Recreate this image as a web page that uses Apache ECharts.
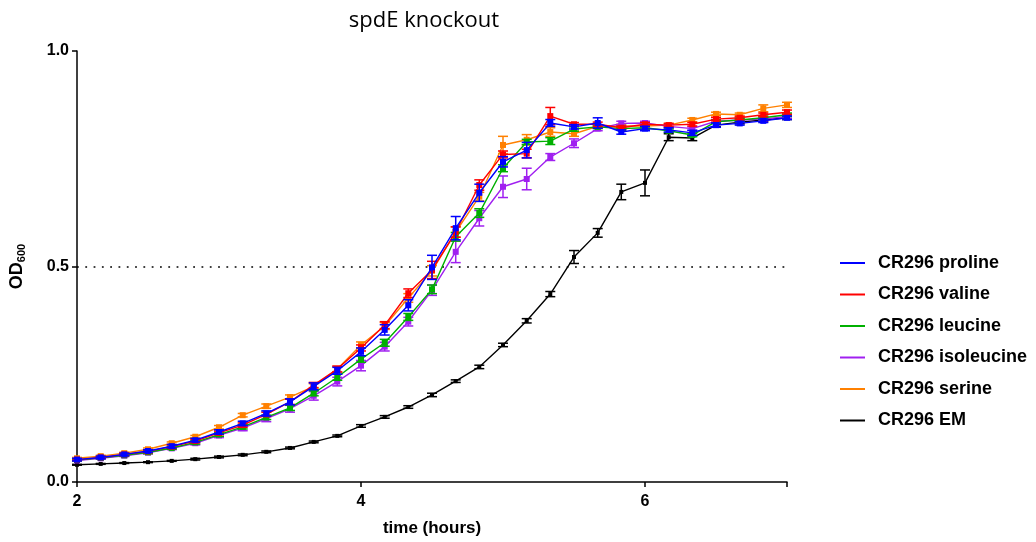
<!DOCTYPE html>
<html>
<head>
<meta charset="utf-8">
<script src="https://cdn.jsdelivr.net/npm/echarts@6/dist/echarts.min.js"></script>
<style>
  html, body { margin: 0; padding: 0; background: #fff; }
  #chart { width: 1036px; height: 542px; }
</style>
</head>
<body>
<div id="chart"></div>
<script>
// Sampling times (hours), one reading every 10 minutes
const hours = [2.000, 2.167, 2.333, 2.500, 2.667, 2.833, 3.000, 3.167, 3.333, 3.500, 3.667,
  3.833, 4.000, 4.167, 4.333, 4.500, 4.667, 4.833, 5.000, 5.167, 5.333, 5.500, 5.667,
  5.833, 6.000, 6.167, 6.333, 6.500, 6.667, 6.833, 7.000];

// OD600 means and error (half-width) per strain/medium
const prolineOD = [0.052, 0.057, 0.064, 0.072, 0.083, 0.097, 0.116, 0.136, 0.159, 0.186, 0.222,
  0.258, 0.302, 0.353, 0.410, 0.498, 0.589, 0.671, 0.743, 0.770, 0.833, 0.824, 0.833,
  0.812, 0.820, 0.817, 0.810, 0.828, 0.832, 0.838, 0.845];
const prolineErr = [0.003, 0.003, 0.003, 0.003, 0.004, 0.004, 0.005, 0.005, 0.006, 0.007, 0.008,
  0.008, 0.009, 0.012, 0.013, 0.028, 0.027, 0.020, 0.012, 0.018, 0.008, 0.005, 0.012,
  0.005, 0.005, 0.005, 0.006, 0.005, 0.004, 0.004, 0.004];

const valineOD = [0.052, 0.057, 0.064, 0.071, 0.082, 0.095, 0.114, 0.132, 0.157, 0.186, 0.225,
  0.262, 0.311, 0.364, 0.438, 0.492, 0.580, 0.689, 0.760, 0.762, 0.849, 0.830, 0.830,
  0.822, 0.830, 0.828, 0.830, 0.842, 0.845, 0.852, 0.858];
const valineErr = [0.002, 0.002, 0.003, 0.003, 0.004, 0.004, 0.004, 0.005, 0.005, 0.006, 0.006,
  0.007, 0.007, 0.008, 0.010, 0.020, 0.012, 0.012, 0.008, 0.010, 0.020, 0.004, 0.005,
  0.004, 0.004, 0.004, 0.004, 0.004, 0.004, 0.004, 0.005];

const leucineOD = [0.051, 0.056, 0.062, 0.069, 0.079, 0.092, 0.110, 0.128, 0.150, 0.172, 0.206,
  0.243, 0.285, 0.323, 0.383, 0.447, 0.569, 0.624, 0.728, 0.789, 0.791, 0.819, 0.824,
  0.820, 0.822, 0.815, 0.805, 0.836, 0.840, 0.845, 0.852];
const leucineErr = [0.002, 0.002, 0.002, 0.003, 0.003, 0.004, 0.004, 0.005, 0.005, 0.006, 0.006,
  0.007, 0.007, 0.008, 0.008, 0.010, 0.010, 0.010, 0.008, 0.006, 0.008, 0.005, 0.004,
  0.004, 0.004, 0.004, 0.004, 0.004, 0.004, 0.004, 0.004];

const isoleucineOD = [0.050, 0.055, 0.061, 0.068, 0.078, 0.090, 0.108, 0.125, 0.147, 0.170, 0.200,
  0.233, 0.270, 0.314, 0.372, 0.445, 0.534, 0.612, 0.685, 0.703, 0.754, 0.786, 0.820,
  0.832, 0.833, 0.825, 0.820, 0.837, 0.840, 0.842, 0.848];
const isoleucineErr = [0.002, 0.002, 0.002, 0.003, 0.003, 0.004, 0.005, 0.006, 0.007, 0.008, 0.010,
  0.010, 0.012, 0.010, 0.010, 0.012, 0.025, 0.018, 0.025, 0.025, 0.008, 0.010, 0.005,
  0.005, 0.004, 0.004, 0.004, 0.004, 0.004, 0.004, 0.004];

const serineOD = [0.055, 0.060, 0.067, 0.076, 0.090, 0.105, 0.127, 0.155, 0.176, 0.197, 0.222,
  0.262, 0.318, 0.362, 0.427, 0.490, 0.580, 0.662, 0.782, 0.794, 0.812, 0.808, 0.825,
  0.826, 0.826, 0.828, 0.840, 0.854, 0.852, 0.867, 0.875];
const serineErr = [0.002, 0.002, 0.002, 0.003, 0.003, 0.003, 0.004, 0.004, 0.005, 0.005, 0.006,
  0.006, 0.007, 0.008, 0.010, 0.012, 0.012, 0.010, 0.020, 0.012, 0.010, 0.006, 0.004,
  0.004, 0.004, 0.004, 0.004, 0.004, 0.004, 0.008, 0.006];

const emOD = [0.040, 0.042, 0.044, 0.046, 0.049, 0.053, 0.058, 0.063, 0.070, 0.079, 0.093,
  0.107, 0.130, 0.151, 0.174, 0.202, 0.234, 0.267, 0.318, 0.374, 0.436, 0.522, 0.578,
  0.673, 0.694, 0.800, 0.798, 0.828, 0.835, 0.840, 0.845];
const emErr = [0.001, 0.001, 0.001, 0.001, 0.001, 0.002, 0.002, 0.002, 0.002, 0.002, 0.002,
  0.002, 0.003, 0.003, 0.003, 0.004, 0.003, 0.004, 0.004, 0.005, 0.006, 0.015, 0.010,
  0.018, 0.030, 0.008, 0.006, 0.004, 0.004, 0.004, 0.004];

const xTicks = [2, 4, 6];
const yTicks = [0, 0.5, 1.0];
const thresholdOD = 0.5;

// Draw order is bottom to top; proline ends up on top
const strains = [
  { name: 'CR296 EM',         color: '#000000', od: emOD,         err: emErr },
  { name: 'CR296 serine',     color: '#ff8000', od: serineOD,     err: serineErr },
  { name: 'CR296 isoleucine', color: '#a020f0', od: isoleucineOD, err: isoleucineErr },
  { name: 'CR296 leucine',    color: '#00b000', od: leucineOD,    err: leucineErr },
  { name: 'CR296 valine',     color: '#ff0000', od: valineOD,     err: valineErr },
  { name: 'CR296 proline',    color: '#0000ff', od: prolineOD,    err: prolineErr }
];
const legendOrder = ['CR296 proline', 'CR296 valine', 'CR296 leucine',
  'CR296 isoleucine', 'CR296 serine', 'CR296 EM'];

const FONT = 'Liberation Sans, Arial, sans-serif';

function errorBarRenderer(color) {
  return function (params, api) {
    const x = api.value(0);
    const lo = api.coord([x, api.value(1)]);
    const hi = api.coord([x, api.value(2)]);
    const cap = 5;
    const style = { stroke: color, lineWidth: 1.5 };
    return {
      type: 'group',
      children: [
        { type: 'line', shape: { x1: lo[0], y1: lo[1], x2: hi[0], y2: hi[1] }, style },
        { type: 'line', shape: { x1: lo[0] - cap, y1: lo[1], x2: lo[0] + cap, y2: lo[1] }, style },
        { type: 'line', shape: { x1: hi[0] - cap, y1: hi[1], x2: hi[0] + cap, y2: hi[1] }, style }
      ]
    };
  };
}

const series = [];
strains.forEach((s, i) => {
  const z = 2 + i * 2;
  const line = {
    name: s.name,
    type: 'line',
    data: hours.map((t, k) => [t, s.od[k]]),
    symbol: 'rect',
    symbolSize: s.name === 'CR296 EM' ? 4 : 6,
    showSymbol: true,
    itemStyle: { color: s.color },
    lineStyle: { color: s.color, width: 1.4 },
    emphasis: { disabled: true },
    animation: false,
    z: z
  };
  if (i === 0) {
    line.markLine = {
      silent: true,
      symbol: 'none',
      label: { show: false },
      lineStyle: { color: '#000', width: 1.5, type: [1.8, 6.5] },
      data: [{ yAxis: thresholdOD }],
      animation: false
    };
  }
  series.push(line);
  series.push({
    name: s.name + ' SD',
    type: 'custom',
    renderItem: errorBarRenderer(s.color),
    data: hours.map((t, k) => [t, s.od[k] - s.err[k], s.od[k] + s.err[k]]),
    encode: { x: 0, y: [1, 2] },
    silent: true,
    animation: false,
    z: z + 1
  });
});

const chart = echarts.init(document.getElementById('chart'), null, { renderer: 'canvas' });
chart.setOption({
  backgroundColor: '#ffffff',
  animation: false,
  title: {
    text: 'spdE knockout',
    left: 419,
    top: 5,
    textAlign: 'center',
    textStyle: { fontFamily: 'Open Sans, sans-serif', fontWeight: 'normal', fontSize: 22, color: '#000' }
  },
  grid: { left: 77, right: 249, top: 51, bottom: 60, containLabel: false },
  legend: {
    data: legendOrder,
    orient: 'vertical',
    left: 840,
    top: 254,
    padding: 0,
    icon: 'rect',
    itemWidth: 25,
    itemHeight: 2,
    itemGap: 13.5,
    itemTextGap: 5,
    selectedMode: false,
    textStyle: { fontFamily: FONT, fontWeight: 'bold', fontSize: 18, color: '#000', lineHeight: 18, padding: [0, 0, 0, 8] }
  },
  xAxis: {
    type: 'value',
    min: 2,
    max: 7,
    interval: 2,
    name: 'time (hours)',
    nameLocation: 'middle',
    nameGap: 38,
    nameTextStyle: { fontFamily: FONT, fontWeight: 'bold', fontSize: 17, color: '#000' },
    axisLine: { show: true, lineStyle: { color: '#000', width: 1.5 } },
    axisTick: { show: true, length: 5, lineStyle: { color: '#000', width: 1.5 } },
    axisLabel: {
      fontFamily: FONT, fontWeight: 'bold', fontSize: 16, color: '#000', margin: 12,
      formatter: v => (xTicks.includes(v) ? String(v) : '')
    },
    splitLine: { show: false }
  },
  yAxis: {
    type: 'value',
    min: 0,
    max: 1,
    interval: 0.5,
    name: 'OD{sub|600}',
    nameLocation: 'middle',
    nameGap: 50,
    nameRotate: 90,
    nameTextStyle: {
      fontFamily: FONT, fontWeight: 'bold', fontSize: 18, color: '#000',
      rich: { sub: { fontFamily: FONT, fontWeight: 'bold', fontSize: 11, color: '#000', verticalAlign: 'bottom', padding: [8, 0, 0, 0] } }
    },
    axisLine: { show: true, lineStyle: { color: '#000', width: 1.5 } },
    axisTick: { show: true, length: 5, lineStyle: { color: '#000', width: 1.5 } },
    axisLabel: {
      fontFamily: FONT, fontWeight: 'bold', fontSize: 16, color: '#000', margin: 8,
      formatter: v => (yTicks.includes(v) ? v.toFixed(1) : '')
    },
    splitLine: { show: false }
  },
  series: series
});
</script>
</body>
</html>
